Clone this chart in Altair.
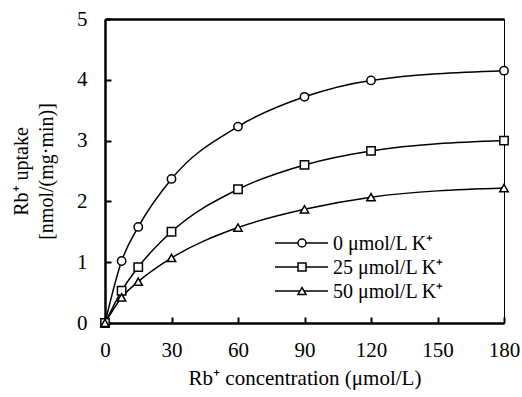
import altair as alt
import pandas as pd

conc = [0, 7.5, 15, 30, 60, 90, 120, 180]
k0 = [0, 1.02, 1.58, 2.37, 3.23, 3.72, 3.99, 4.15]
k25 = [0, 0.53, 0.92, 1.50, 2.20, 2.60, 2.83, 3.00]
k50 = [0, 0.42, 0.68, 1.07, 1.57, 1.87, 2.07, 2.22]
series_names = ["0 μmol/L K⁺", "25 μmol/L K⁺", "50 μmol/L K⁺"]
x_ticks = [0, 30, 60, 90, 120, 150, 180]
y_ticks = [0, 1, 2, 3, 4, 5]

rows = []
for name, vals in zip(series_names, [k0, k25, k50]):
    for c, v in zip(conc, vals):
        rows.append({"conc": c, "uptake": v, "series": name})
df = pd.DataFrame(rows)
legend_df = pd.DataFrame({"series": series_names})

FONT = "Liberation Serif"
W, H = 399, 304

xs = alt.Scale(domain=[0, 180], nice=False, zero=False)
ys = alt.Scale(domain=[0, 5], nice=False, zero=False)
shape_scale = alt.Scale(domain=series_names, range=["circle", "square", "triangle-up"])

base = alt.Chart(df)

lines = base.mark_line(color="black", strokeWidth=1.5, interpolate="monotone").encode(
    x=alt.X("conc:Q", scale=xs,
            axis=alt.Axis(orient="bottom", values=x_ticks, ticks=False, tickSize=0, labelFlush=False,
                          labelPadding=16, labelFontSize=21, labelFont=FONT, labelColor="black",
                          domainColor="black", domainWidth=2.5, grid=False,
                          title="Rb⁺ concentration (μmol/L)", titleFont=FONT, titleFontSize=21,
                          titleFontWeight="normal", titleColor="black", titlePadding=7)),
    y=alt.Y("uptake:Q", scale=ys,
            axis=alt.Axis(orient="left", values=y_ticks, ticks=False, tickSize=0, labelFlush=False,
                          labelPadding=18, labelFontSize=21, labelFont=FONT, labelColor="black",
                          domainColor="black", domainWidth=2.5, grid=False,
                          title=["Rb⁺ uptake", "[nmol/(mg·min)]"], titleFont=FONT, titleFontSize=20,
                          titleFontWeight="normal", titleColor="black", titlePadding=20,
                          titleLineHeight=25)),
    detail="series:N",
)

points = base.mark_point(filled=False, fill="white", fillOpacity=1, stroke="black",
                         strokeWidth=1.5, size=70, opacity=1).encode(
    x=alt.X("conc:Q", scale=xs,
            axis=alt.Axis(orient="top", offset=-H, values=x_ticks, labels=False, domain=False,
                          ticks=True, tickSize=6, tickWidth=2, tickColor="black", grid=False, title=None)),
    y=alt.Y("uptake:Q", scale=ys,
            axis=alt.Axis(orient="right", offset=-W, values=y_ticks, labels=False, domain=False,
                          ticks=True, tickSize=6, tickWidth=2, tickColor="black", grid=False, title=None)),
    shape=alt.Shape("series:N", scale=shape_scale, legend=None),
)

border_layer = base.transform_filter("datum.conc < 0").mark_point(opacity=0).encode(
    x=alt.X("conc:Q", scale=xs,
            axis=alt.Axis(orient="top", labels=False, ticks=False, domain=True, domainWidth=2.5,
                          domainColor="black", grid=False, title=None)),
    y=alt.Y("uptake:Q", scale=ys, axis=None),
)

main = alt.layer(lines, points, border_layer).resolve_axis(x="independent", y="independent")

# legend built from the series list via an ordinal (point) scale
leg_y = alt.Y("series:N", scale=alt.Scale(type="point", domain=series_names, range=[224, 272], padding=0),
              axis=None)
leg_base = alt.Chart(legend_df)
leg_rule = leg_base.mark_rule(color="black", strokeWidth=1.5).encode(
    x=alt.value(170), x2=alt.value(223), y=leg_y)
leg_pts = leg_base.mark_point(filled=False, fill="white", fillOpacity=1, stroke="black",
                              strokeWidth=1.5, size=64, opacity=1).encode(
    x=alt.value(197), y=leg_y, shape=alt.Shape("series:N", scale=shape_scale, legend=None))
leg_txt = leg_base.mark_text(align="left", baseline="middle", font=FONT, fontSize=20,
                             color="black", dx=0, dy=1).encode(
    x=alt.value(228), y=leg_y, text="series:N")
legend = alt.layer(leg_rule, leg_pts, leg_txt)

chart = alt.layer(main, legend).resolve_scale(y="independent").properties(
    width=W, height=H,
    autosize=alt.AutoSizeParams(type="none"),
    padding={"left": 105, "top": 19, "right": 18, "bottom": 74},
    background="white",
).configure_view(
    stroke="black", strokeWidth=1
)

chart.save("out.html", embed_options={"renderer": "svg", "actions": False})
